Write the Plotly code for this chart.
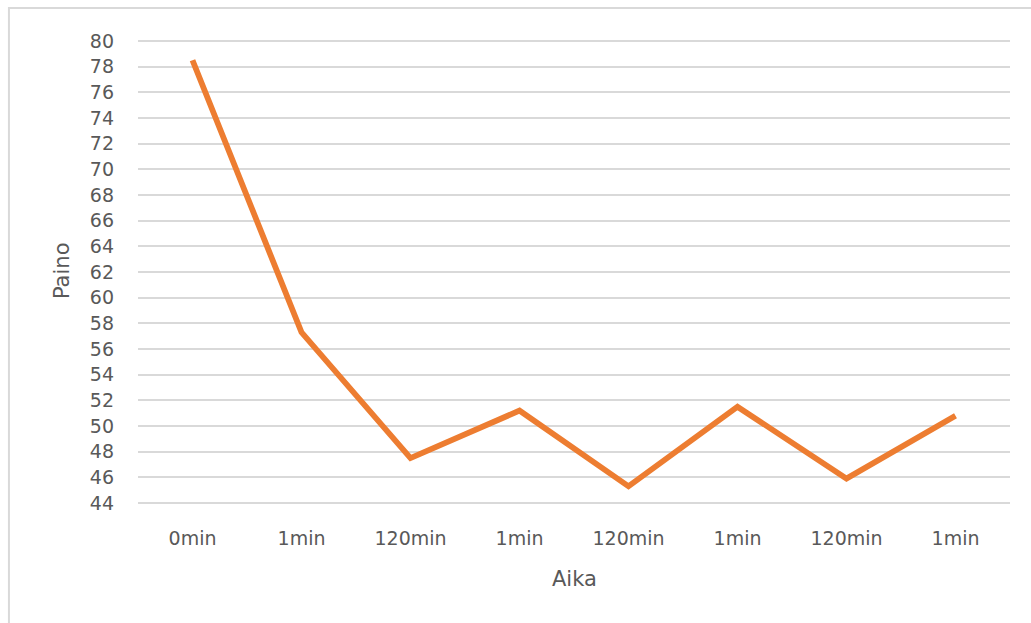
import plotly.graph_objects as go

categories = ["0min", "1min", "120min", "1min", "120min", "1min", "120min", "1min"]
paino = [78.5, 57.3, 47.5, 51.2, 45.3, 51.5, 45.9, 50.8]
y_ticks = list(range(44, 81, 2))

positions = list(range(len(categories)))

font_family = "DejaVu Sans"
gray = "#595959"

fig = go.Figure()
fig.add_trace(go.Scatter(
    x=positions, y=paino, mode="lines",
    line=dict(color="#ED7D31", width=5.8),
    showlegend=False, hoverinfo="skip",
))

fig.update_layout(
    width=1031, height=623,
    margin=dict(l=138, r=21, t=40, b=119),
    paper_bgcolor="white", plot_bgcolor="white",
    font=dict(family=font_family, color=gray, size=19),
    xaxis=dict(
        range=[-0.5, len(categories) - 0.5],
        tickmode="array", tickvals=positions, ticktext=categories,
        showgrid=False, zeroline=False, showline=False,
        ticks="", ticklabelstandoff=21,
        tickfont=dict(size=19, color=gray, family=font_family),
    ),
    yaxis=dict(
        range=[43.92, 80.08],
        tickmode="array", tickvals=y_ticks, ticktext=[str(v) for v in y_ticks],
        showgrid=True, gridcolor="#D9D9D9", gridwidth=2,
        zeroline=False, showline=False,
        ticks="", ticklabelstandoff=23,
        tickfont=dict(size=19, color=gray, family=font_family),
    ),
    shapes=[dict(
        type="rect", xref="paper", yref="paper",
        x0=-0.148, x1=1.2, y0=-0.6, y1=1.069,
        line=dict(color="#D9D9D9", width=2), fillcolor="rgba(0,0,0,0)",
        layer="below",
    )],
    annotations=[
        dict(text="Paino", xref="paper", yref="paper", x=-0.0872, y=0.504,
             textangle=-90, showarrow=False, xanchor="center", yanchor="middle",
             font=dict(size=21, color=gray, family=font_family)),
        dict(text="Aika", xref="paper", yref="paper", x=0.5, y=-0.162,
             showarrow=False, xanchor="center", yanchor="middle",
             font=dict(size=21, color=gray, family=font_family)),
    ],
)

fig.write_html("out.html")
